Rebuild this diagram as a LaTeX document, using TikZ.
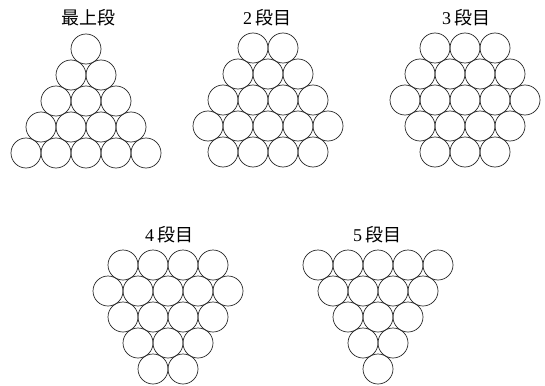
\documentclass[tikz,border=0pt]{standalone}
\usepackage{fontspec}
\setmainfont{Liberation Serif}
\newfontfamily\jpfont{Noto Sans CJK JP}
\begin{document}
\begin{tikzpicture}[x=1pt,y=-1pt,
  ball/.style={draw=black!85,line width=0.7pt},
  title/.style={font=\fontsize{18}{20}\selectfont, inner sep=0pt, anchor=center}]
\useasboundingbox (0,0) rectangle (545,385);
\foreach \cx/\cy/\rows in {86/49/{1,2,3,4,5}, 268/48/{2,3,4,5,4}, 465/48/{3,4,5,4,3}, 168/265/{4,5,4,3,2}, 378/265/{5,4,3,2,1}}{
  \foreach \n [count=\k from 0] in \rows {
    \foreach \i in {1,...,\n} {
      \draw[ball] ({\cx+30*\i-15*\n-15},{\cy+26*\k}) circle[radius=15pt];
    }
  }
}
\node[title] (t1) at (88,18) {\jpfont 最上段};
\node[title] (t2) at (267,18) {2\,{\jpfont 段目}};
\node[title] (t3) at (466,18) {3\,{\jpfont 段目}};
\node[title] (t4) at (169,235) {4\,{\jpfont 段目}};
\node[title] (t5) at (377,235) {5\,{\jpfont 段目}};
\end{tikzpicture}
\end{document}
